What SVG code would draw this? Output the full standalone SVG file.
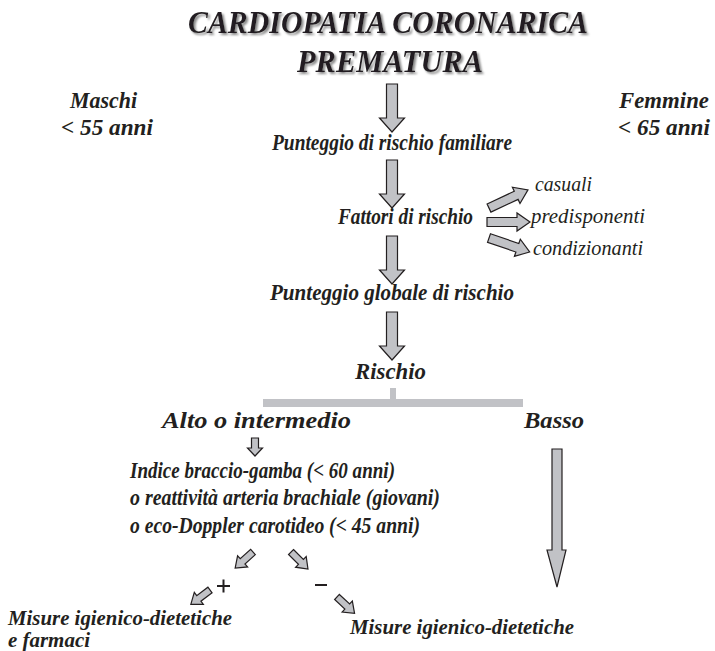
<svg xmlns="http://www.w3.org/2000/svg" width="715" height="651" viewBox="0 0 715 651">
<style>
  .t { font-family: 'Liberation Serif', serif; font-weight: 700; font-style: italic; fill: #231f20; }
  .title { font-size: 32px; }
  .m { font-size: 24px; }
  .s { font-size: 21px; }
  .r { font-family: 'Liberation Serif', serif; font-style: italic; font-size: 20px; fill: #231f20; }
  .arr { fill: #c1c2c6; stroke: #231f20; stroke-width: 1.2; stroke-linejoin: miter; }
  .bar { fill: #c1c2c6; }
  .sign { stroke: #231f20; stroke-width: 2; fill: none; }
</style>
<defs>
  <filter id="shadow" x="-5%" y="-20%" width="110%" height="150%">
    <feDropShadow dx="2" dy="2" stdDeviation="0.8" flood-color="#8a8a8a" flood-opacity="1"/>
  </filter>
  <polygon id="bigArrow" points="-5.5,0 5.5,0 5.5,34 12.5,34 0,48 -12.5,34 -5.5,34"/>
  <polygon id="midArrow" points="0,-4.5 30,-4.5 30,-9 43,0 30,9 30,4.5 0,4.5"/>
  <polygon id="smallArrow" points="0,-3.5 14,-3.5 14,-7.5 24,0 14,7.5 14,3.5 0,3.5"/>
</defs>

<g id="title" filter="url(#shadow)">
  <text class="t title" x="388" y="33" text-anchor="middle" textLength="400" lengthAdjust="spacingAndGlyphs">CARDIOPATIA CORONARICA</text>
  <text class="t title" x="390" y="72" text-anchor="middle" textLength="186" lengthAdjust="spacingAndGlyphs">PREMATURA</text>
</g>

<g id="maschi">
  <text class="t m" x="70" y="108" textLength="67" lengthAdjust="spacingAndGlyphs">Maschi</text>
  <text class="t m" x="61" y="135" textLength="92" lengthAdjust="spacingAndGlyphs">&lt; 55 anni</text>
</g>
<g id="femmine">
  <text class="t m" x="619" y="108" textLength="90" lengthAdjust="spacingAndGlyphs">Femmine</text>
  <text class="t m" x="618" y="135" textLength="92" lengthAdjust="spacingAndGlyphs">&lt; 65 anni</text>
</g>

<g id="familiare">
  <text class="t m" x="272" y="150" textLength="240" lengthAdjust="spacingAndGlyphs">Punteggio di rischio familiare</text>
</g>
<g id="fattori">
  <text class="t m" x="338" y="224" textLength="135" lengthAdjust="spacingAndGlyphs">Fattori di rischio</text>
</g>
<g id="tipi">
  <text class="r" x="535" y="191" textLength="57" lengthAdjust="spacingAndGlyphs">casuali</text>
  <text class="r" x="531" y="223" textLength="114" lengthAdjust="spacingAndGlyphs">predisponenti</text>
  <text class="r" x="533" y="255" textLength="110" lengthAdjust="spacingAndGlyphs">condizionanti</text>
</g>
<g id="globale">
  <text class="t m" x="270" y="300" textLength="244" lengthAdjust="spacingAndGlyphs">Punteggio globale di rischio</text>
</g>
<g id="rischio">
  <text class="t m" x="355" y="379" textLength="71" lengthAdjust="spacingAndGlyphs">Rischio</text>
</g>
<g id="alto">
  <text class="t m" x="162" y="428" textLength="189" lengthAdjust="spacingAndGlyphs">Alto o intermedio</text>
</g>
<g id="basso">
  <text class="t m" x="524" y="428" textLength="60" lengthAdjust="spacingAndGlyphs">Basso</text>
</g>
<g id="esami">
  <text class="t m" x="130" y="478" textLength="265" lengthAdjust="spacingAndGlyphs">Indice braccio-gamba (&lt; 60 anni)</text>
  <text class="t m" x="130" y="505" textLength="310" lengthAdjust="spacingAndGlyphs">o reattività arteria brachiale (giovani)</text>
  <text class="t m" x="130" y="533" textLength="290" lengthAdjust="spacingAndGlyphs">o eco-Doppler carotideo (&lt; 45 anni)</text>
</g>
<g id="farmaci">
  <text class="t s" x="8" y="625" textLength="224" lengthAdjust="spacingAndGlyphs">Misure igienico-dietetiche</text>
  <text class="t s" x="8" y="647" textLength="82" lengthAdjust="spacingAndGlyphs">e farmaci</text>
</g>
<g id="igieniche">
  <text class="t s" x="350" y="634" textLength="224" lengthAdjust="spacingAndGlyphs">Misure igienico-dietetiche</text>
</g>
<g id="segni">
  <path class="sign" d="M217,586 H230 M223.5,579.5 V592.5"/>
  <path class="sign" d="M315,585 H327"/>
</g>

<g id="connectors">
  <use href="#bigArrow" class="arr" x="392" y="84"/>
  <use href="#bigArrow" class="arr" x="392" y="160"/>
  <use href="#bigArrow" class="arr" x="392" y="236"/>
  <use href="#bigArrow" class="arr" x="392" y="312"/>

  <use href="#midArrow" class="arr" transform="translate(489,208) rotate(-25)"/>
  <use href="#midArrow" class="arr" transform="translate(487,222)"/>
  <use href="#midArrow" class="arr" transform="translate(489,238) rotate(19)"/>

  <rect class="bar" x="390" y="388" width="6" height="12"/>
  <rect class="bar" x="263" y="399" width="260" height="8"/>

  <polygon class="arr" points="251.5,438 258.5,438 258.5,448 262.5,448 255,456 247.5,448 251.5,448"/>
  <polygon class="arr" points="552,449 562,449 562,550 566,550 557,587 547,550 552,550"/>

  <use href="#smallArrow" class="arr" transform="translate(253,552) rotate(138)"/>
  <use href="#smallArrow" class="arr" transform="translate(291,552) rotate(45)"/>
  <use href="#smallArrow" class="arr" transform="translate(210,590) rotate(143)"/>
  <use href="#smallArrow" class="arr" transform="translate(337,597) rotate(43)"/>
</g>
</svg>
